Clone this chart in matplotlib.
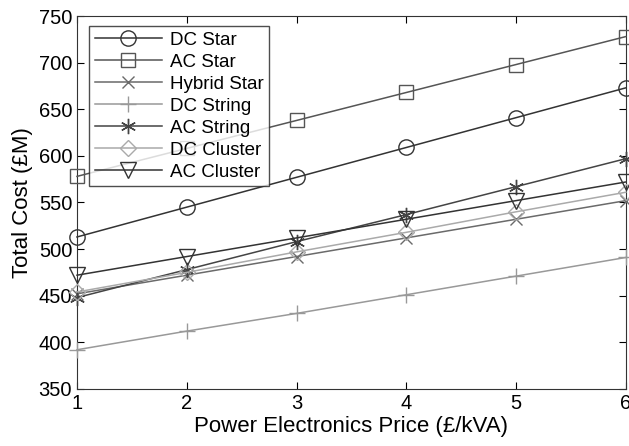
import matplotlib
matplotlib.use("Agg")
import matplotlib.pyplot as plt

price = [1, 2, 3, 4, 5, 6]

dc_star = [513, 545, 577, 609, 641, 673]
ac_star = [578, 608, 638, 668, 698, 728]
hybrid_star = [452, 472, 492, 512, 532, 552]
dc_string = [392, 412, 431, 451, 471, 491]
ac_string = [448, 478, 508, 537, 567, 597]
dc_cluster = [454, 475, 497, 518, 540, 561]
ac_cluster = [472, 492, 512, 532, 552, 572]

# marker (6, 2, 0) draws an asterisk like MATLAB's '*'
series = [
    ("DC Star", dc_star, "o", "#333333", 11),
    ("AC Star", ac_star, "s", "#555555", 10.5),
    ("Hybrid Star", hybrid_star, "x", "#6a6a6a", 9),
    ("DC String", dc_string, "+", "#999999", 12),
    ("AC String", ac_string, (6, 2, 0), "#444444", 11),
    ("DC Cluster", dc_cluster, "D", "#aaaaaa", 8.5),
    ("AC Cluster", ac_cluster, "v", "#333333", 11.5),
]

plt.rcParams["font.family"] = ["Liberation Sans", "DejaVu Sans"]

fig = plt.figure(figsize=(6.29, 4.46), dpi=100)
ax = fig.add_axes([0.1224, 0.128, 0.8726, 0.836])

for name, vals, mk, col, ms in series:
    ax.plot(price, vals, marker=mk, color=col, label=name, lw=1.1,
            markerfacecolor="none", markeredgecolor=col, markersize=ms,
            markeredgewidth=1.0, clip_on=False, zorder=3)

ax.set_xlim(1, 6)
ax.set_ylim(350, 750)
ax.set_xticks(price)
ax.set_yticks(range(350, 751, 50))
ax.tick_params(direction="in", top=True, right=True, labelsize=14.5, length=5)
for s in ax.spines.values():
    s.set_color("#333333")
ax.set_xlabel("Power Electronics Price (£/kVA)", fontsize=16, labelpad=2)
ax.set_ylabel("Total Cost (£M)", fontsize=16, labelpad=4)

leg = ax.legend(loc="upper left", bbox_to_anchor=(0.022, 0.973), fontsize=13.5,
                frameon=True, fancybox=False, edgecolor="#222222",
                handlelength=3.6, borderpad=0.3, labelspacing=0.26,
                handletextpad=0.4, borderaxespad=0)
leg.get_frame().set_linewidth(1.0)

fig.savefig("out.png", dpi=100)
